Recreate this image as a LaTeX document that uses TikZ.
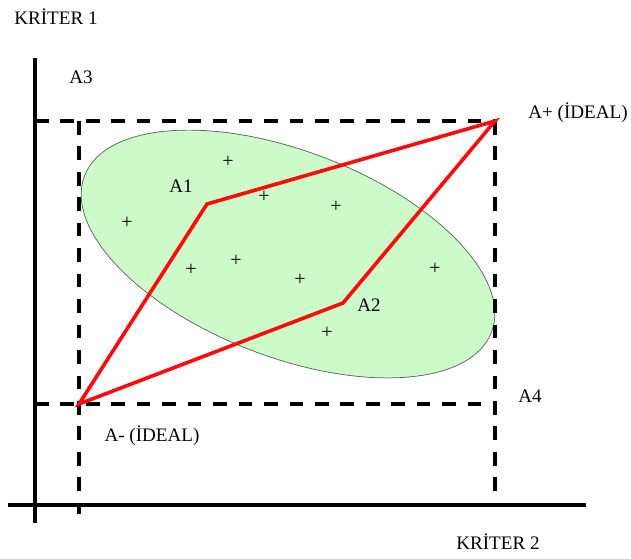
\documentclass[tikz,border=0pt]{standalone}
\usepackage{fontspec}
\setmainfont{Liberation Serif}
\usetikzlibrary{positioning}
\definecolor{ellgreen}{RGB}{204,250,200}
\definecolor{polyred}{RGB}{250,12,12}
\definecolor{ellrim}{RGB}{90,100,90}
\tikzset{
  axis/.style={line width=2.2pt, black},
  guide/.style={line width=2.2pt, black, dash pattern=on 7.5pt off 6.5pt},
  polyline/.style={line width=2pt, polyred, line join=miter},
  lbl/.style={font=\fontsize{10.5}{12}\selectfont, inner sep=0pt},
  plus/.style={font=\fontsize{11}{12}\selectfont, inner sep=0pt}
}

\begin{document}
\begin{tikzpicture}[x=0.55pt, y=-0.55pt]
  \useasboundingbox (0,0) rectangle (631,558);
  % alternatives and ideal points
  \coordinate (Aminus) at (79,404);
  \coordinate (Aone) at (207,204);
  \coordinate (Aplus) at (495,121);
  \coordinate (Atwo) at (343,303);

  % cloud of alternatives
  \draw[fill=ellgreen, draw=ellrim, line width=0.4pt, rotate around={-21:(288,254)}]
    (288,254) ellipse [x radius=218, y radius=103];

  % axes
  \draw[axis] (35,58) -- (35,523);
  \draw[axis] (8,505) -- (586,505);

  % dashed guides
  \draw[guide] (35,121) -- (Aplus);
  \draw[guide] (35,404) -- (495,404);
  \draw[guide] (79,121) -- (79,514);
  \draw[guide] (Aplus) -- (495,505);

  % red polygon
  \draw[polyline] (Aminus) -- (Aone) -- (Aplus) -- (Atwo) -- cycle;

  % other alternatives
  \foreach \px/\py [count=\k] in {228/162, 264/197, 336/207, 127/223, 191/270,
                                   236/261, 300/280, 435/269, 327/333}
    \node[plus] (pt\k) at (\px,\py) {+};

  % labels
  \node[lbl] (krit1) at (56,17) {KRİTER 1};
  \node[lbl] (lblA3) at (81,77) {A3};
  \node[lbl] (lblAplus) at (578,113) {A+ (İDEAL)};
  \node[lbl] (lblA1) at (181,186) {A1};
  \node[lbl] (lblA2) at (369,305) {A2};
  \node[lbl] (lblA4) at (530,396) {A4};
  \node[lbl] (lblAminus) at (152,436) {A- (İDEAL)};
  \node[lbl] (krit2) at (498,542) {KRİTER 2};
\end{tikzpicture}
\end{document}
